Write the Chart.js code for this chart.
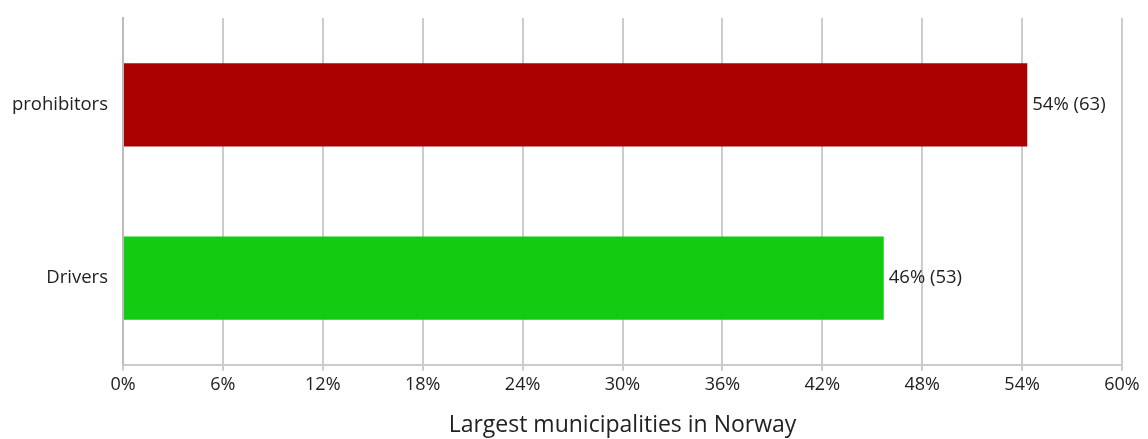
<!DOCTYPE html>
<html>
<head>
<meta charset="utf-8">
<script src="https://cdn.jsdelivr.net/npm/chart.js@4"></script>
<style>
  html, body { margin: 0; padding: 0; background: #fff; }
  #wrap { width: 1148px; height: 439px; }
</style>
</head>
<body>
<div id="wrap"><canvas id="chart"></canvas></div>
<script>
const categories = ['prohibitors', 'Drivers'];
const percents = [54.31, 45.69];
const counts = [63, 53];
const barColors = ['#AA0000', '#11CC11'];
const tickValues = [0, 6, 12, 18, 24, 30, 36, 42, 48, 54, 60];
const axisTitle = 'Largest municipalities in Norway';

const FONT = "'Open Sans', 'Noto Sans', sans-serif";

// writes "54% (63)" just after the end of each bar
const barLabels = {
  id: 'barLabels',
  afterDatasetsDraw(chart) {
    const ctx = chart.ctx;
    const meta = chart.getDatasetMeta(0);
    ctx.save();
    ctx.font = '18.5px ' + FONT;
    ctx.fillStyle = '#222';
    ctx.textAlign = 'left';
    ctx.textBaseline = 'middle';
    meta.data.forEach((bar, i) => {
      ctx.fillText(Math.round(percents[i]) + '% (' + counts[i] + ')', bar.x + 5, bar.y);
    });
    ctx.restore();
  }
};

new Chart(document.getElementById('chart'), {
  type: 'bar',
  data: {
    labels: categories,
    datasets: [{
      data: percents,
      backgroundColor: barColors,
      barPercentage: 0.48,
      categoryPercentage: 1
    }]
  },
  options: {
    indexAxis: 'y',
    responsive: true,
    maintainAspectRatio: false,
    animation: false,
    layout: { padding: { top: 6, right: 26, left: 0, bottom: 0 } },
    plugins: {
      legend: { display: false },
      tooltip: { enabled: false }
    },
    scales: {
      x: {
        min: 0,
        max: 60,
        afterBuildTicks: axis => { axis.ticks = tickValues.map(v => ({ value: v })); },
        grid: { color: '#cccccc', lineWidth: 2, tickLength: 6, drawTicks: true },
        border: { color: '#cccccc', width: 2 },
        ticks: {
          color: '#222',
          font: { family: FONT, size: 18 },
          padding: 3,
          maxRotation: 0,
          callback: v => v + '%'
        },
        title: {
          display: true,
          text: axisTitle,
          color: '#222',
          font: { family: FONT, size: 23 },
          padding: { top: 13, bottom: 0 }
        }
      },
      y: {
        afterFit: axis => { axis.width = 123; },
        grid: { display: false },
        border: { color: '#bbbbbb', width: 2 },
        ticks: {
          color: '#222',
          font: { family: FONT, size: 18.5 },
          padding: 7
        }
      }
    }
  },
  plugins: [barLabels]
});
</script>
</body>
</html>
